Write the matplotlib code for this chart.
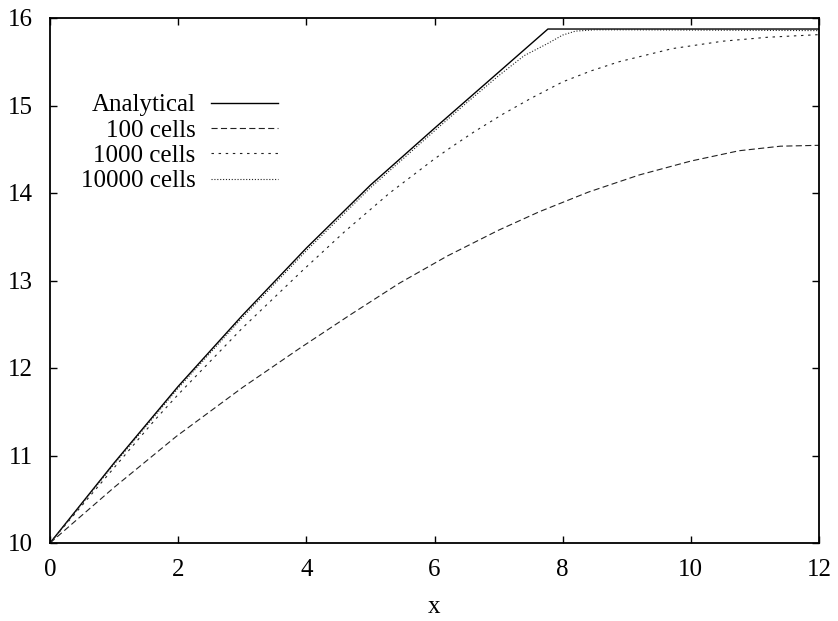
import matplotlib
matplotlib.use("Agg")
import matplotlib.pyplot as plt

plt.rcParams['font.family'] = ['Liberation Serif', 'DejaVu Serif']
plt.rcParams['font.size'] = 18

# Analytical solution: ramp up to the plateau, then constant
x_exact = [0, 1, 2, 3, 4, 5, 6, 7, 7.77, 12]
y_exact = [10, 10.915, 11.79, 12.60, 13.37, 14.09, 14.74, 15.38, 15.874, 15.874]

# numerical results for three grid sizes
x_100 = [0, 1, 1.974, 3, 3.896, 4.7, 5.454, 6.2, 7.0, 7.636, 8.4, 9.194, 10.0, 10.753, 11.4, 12]
y_100 = [10, 10.635, 11.22, 11.775, 12.225, 12.615, 12.97, 13.28, 13.575, 13.786, 14.01, 14.206,
         14.365, 14.483, 14.535, 14.545]

x_1000 = [0, 1, 1.636, 2, 3, 3.92, 4.6, 5.3, 6.0, 6.233, 6.62, 7.064, 7.5, 8.0, 8.44, 8.88,
          9.71, 10.5, 11.2, 12]
y_1000 = [10, 10.86, 11.406, 11.697, 12.455, 13.10, 13.56, 14.0, 14.39, 14.51, 14.70, 14.90,
          15.08, 15.27, 15.395, 15.50, 15.65, 15.735, 15.78, 15.81]

x_10000 = [0, 1, 2, 3, 4, 5, 6, 6.5, 7, 7.4, 7.77, 8.0, 8.2, 8.5, 9, 12]
y_10000 = [10, 10.90, 11.77, 12.575, 13.34, 14.06, 14.71, 15.03, 15.34, 15.57, 15.71, 15.805,
           15.85, 15.865, 15.865, 15.856]

fig = plt.figure(figsize=(8.38, 6.21), dpi=100)
ax = fig.add_axes([50 / 838, 1 - 543 / 621, 769 / 838, 525 / 621])

lw = 0.8
ax.plot(x_exact, y_exact, color='black', lw=1.0, label='Analytical')
ax.plot(x_100, y_100, color='#222222', lw=lw, ls=(0, (5.5, 3.0)), label='100 cells')
ax.plot(x_1000, y_1000, color='#222222', lw=lw, ls=(0, (2.2, 4.2)), label='1000 cells')
ax.plot(x_10000, y_10000, color='#222222', lw=lw, ls=(0, (1.0, 1.6)), label='10000 cells')

ax.set_xlim(0, 12)
ax.set_ylim(10, 16)
ax.set_xticks(range(0, 13, 2))
ax.set_yticks(range(10, 17))
ax.tick_params(direction='in', length=5, width=1.0, top=True, right=True)
ax.tick_params(axis='x', pad=11.5)
ax.tick_params(axis='y', pad=12)
for sp in ax.spines.values():
    sp.set_linewidth(1.3)
ax.set_xlabel('x', labelpad=11)

ax.legend(loc='upper right', bbox_to_anchor=(278 / 838, 1 - 94 / 621),
          bbox_transform=fig.transFigure, markerfirst=False, frameon=False,
          borderpad=0, borderaxespad=0, handlelength=2.67, handletextpad=0.64,
          labelspacing=0.11)

fig.savefig('out.png', dpi=100)
